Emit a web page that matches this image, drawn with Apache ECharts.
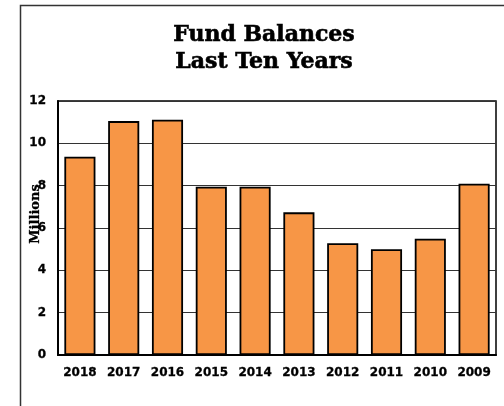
<!DOCTYPE html>
<html>
<head>
<meta charset="utf-8">
<script src="https://cdn.jsdelivr.net/npm/echarts@6/dist/echarts.min.js"></script>
<style>
  html, body { margin: 0; padding: 0; background: #fff; }
  #chart { width: 504px; height: 406px; }
</style>
</head>
<body>
<div id="chart"></div>
<script>
// Fund balances by fiscal year, in millions
const years = ['2018', '2017', '2016', '2015', '2014', '2013', '2012', '2011', '2010', '2009'];
const balances = [9.37, 11.05, 11.12, 7.95, 7.95, 6.74, 5.28, 5.0, 5.49, 8.09];
const yTicks = [0, 2, 4, 6, 8, 10, 12];

const chart = echarts.init(document.getElementById('chart'), null, { renderer: 'canvas' });

const labelFont = {
  fontFamily: 'DejaVu Sans', fontWeight: 'bold', fontSize: 12, color: '#000',
  textBorderColor: '#000', textBorderWidth: 0.3
};

chart.setOption({
  animation: false,
  backgroundColor: '#fff',
  grid: {
    left: 58, right: 8, top: 101, bottom: 51,
    show: true, borderColor: '#000', borderWidth: 1.5, backgroundColor: 'transparent'
  },
  xAxis: {
    type: 'category',
    data: years,
    axisLine: { lineStyle: { color: '#000', width: 2 } },
    axisTick: { show: false },
    axisLabel: Object.assign({ margin: 12 }, labelFont)
  },
  yAxis: {
    type: 'value',
    min: yTicks[0],
    max: yTicks[yTicks.length - 1],
    interval: 2,
    axisLine: { show: true, lineStyle: { color: '#000', width: 2 } },
    axisTick: { show: false },
    axisLabel: Object.assign({ margin: 12 }, labelFont),
    splitLine: { lineStyle: { color: '#333', width: 1.2 } }
  },
  series: [{
    type: 'bar',
    data: balances,
    barWidth: '71%',
    itemStyle: { color: '#F79646', borderColor: '#000', borderWidth: 1.8 }
  }],
  graphic: [
    {
      type: 'rect',
      shape: { x: 20.5, y: 5.5, width: 700, height: 700 },
      style: { fill: 'none', stroke: '#333', lineWidth: 1.5 },
      silent: true
    },
    {
      type: 'text', x: 264, y: 35,
      style: {
        text: 'Fund Balances', textAlign: 'center', textVerticalAlign: 'middle',
        font: 'bold 22px "DejaVu Serif"', fill: '#000', stroke: '#000', lineWidth: 0.6
      }
    },
    {
      type: 'text', x: 264, y: 62,
      style: {
        text: 'Last Ten Years', textAlign: 'center', textVerticalAlign: 'middle',
        font: 'bold 22px "DejaVu Serif"', fill: '#000', stroke: '#000', lineWidth: 0.6
      }
    },
    {
      type: 'text', x: 36, y: 214, rotation: Math.PI / 2,
      style: {
        text: 'Millions', textAlign: 'center', textVerticalAlign: 'middle',
        font: 'bold 13px "DejaVu Serif"', fill: '#000', stroke: '#000', lineWidth: 0.3
      }
    }
  ]
});
</script>
</body>
</html>
